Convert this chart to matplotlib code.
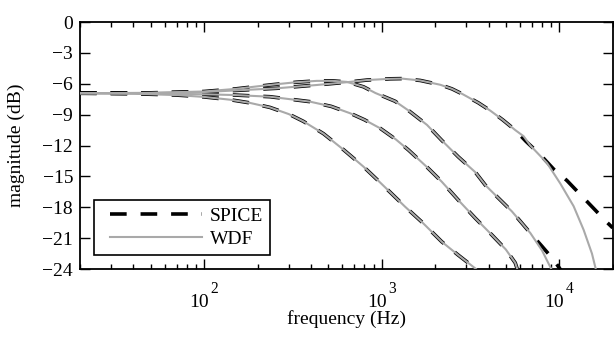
import numpy as np
import matplotlib
matplotlib.use('Agg')
import matplotlib.pyplot as plt
from matplotlib.ticker import LogLocator, FixedLocator, NullFormatter
from matplotlib.legend_handler import HandlerLine2D

plt.rcParams['font.family'] = ['Liberation Serif', 'DejaVu Serif']
plt.rcParams['lines.scale_dashes'] = False

#curve data: frequency (Hz) and magnitude (dB)
f1 = [20, 40, 70, 100, 140, 180, 235, 300, 362, 470, 609, 789, 981, 1355, 1700, 2180, 2700, 3370, 3600]
db1 = [-6.92, -6.97, -7.1, -7.28, -7.55, -7.85, -8.3, -8.95, -9.65, -10.85, -12.4, -14.05, -15.6, -17.95, -19.5, -21.35, -22.65, -23.95, -24.4]

f2 = [20, 50, 100, 150, 235, 395, 520, 665, 800, 981, 1200, 1416, 1800, 2180, 2700, 3370, 4180, 5000, 5650, 5800, 6100]
db2 = [-6.92, -6.95, -7.02, -7.1, -7.26, -7.74, -8.2, -8.87, -9.5, -10.33, -11.4, -12.44, -14.1, -15.52, -17.3, -19.07, -20.7, -22.1, -23.4, -24.0, -24.6]

f3 = [20, 50, 100, 150, 200, 251, 330, 431, 530, 637, 791, 922, 1190, 1416, 1800, 2180, 2700, 3370, 3830, 4600, 5410, 6870]
db3 = [-6.92, -6.88, -6.75, -6.5, -6.25, -6.06, -5.85, -5.72, -5.72, -5.82, -6.3, -6.9, -7.7, -8.6, -10.0, -11.5, -13.1, -14.6, -15.84, -17.2, -18.4, -20.5]
f3_spice_hi = [8000, 9290, 10200]
db3_spice_hi = [-21.8, -23.1, -24.1]
f3_wdf_hi = [8000, 8780, 9200]
db3_wdf_hi = [-22.2, -23.6, -24.3]

f4 = [20, 50, 100, 150, 257, 431, 637, 826, 1117, 1300, 1650, 2140, 2490, 2850, 3500, 4080, 4800, 5650]
db4 = [-6.92, -6.9, -6.8, -6.65, -6.44, -6.12, -5.85, -5.64, -5.52, -5.5, -5.68, -6.1, -6.5, -7.0, -7.85, -8.6, -9.5, -10.5]
f4_spice_hi = [6500, 7820, 9300, 11040, 13720, 16000, 18400, 20000]
db4_spice_hi = [-11.6, -12.9, -14.3, -15.4, -17.1, -18.3, -19.4, -20.0]
f4_wdf_hi = [6300, 6870, 8530, 10140, 12050, 13720, 15280, 15950, 16300]
db4_wdf_hi = [-11.1, -12.0, -13.7, -15.7, -17.9, -20.2, -22.5, -23.8, -24.5]

spice = [(f1, db1), (f2, db2), (f3 + f3_spice_hi, db3 + db3_spice_hi), (f4 + f4_spice_hi, db4 + db4_spice_hi)]
wdf = [(f1, db1), (f2, db2), (f3 + f3_wdf_hi, db3 + db3_wdf_hi), (f4 + f4_wdf_hi, db4 + db4_wdf_hi)]

x_exps = [2, 3, 4]

fs = 14

fig = plt.figure(figsize=(6.14, 3.38), dpi=100)
ax = fig.add_axes([0.1303, 0.2041, 0.8676, 0.7308])

for i, (f, d) in enumerate(spice):
    ax.plot(f, d, color='black', lw=2.6, dashes=[12, 10], label='SPICE' if i == 0 else None, zorder=2)
for i, (f, d) in enumerate(wdf):
    ax.plot(f, d, color='#a9a9a9', lw=1.5, label='WDF' if i == 0 else None, zorder=3)

ax.set_xscale('log')
ax.set_xlim(20, 20000)
ax.set_ylim(-24, 0)
ax.yaxis.set_major_locator(FixedLocator(np.arange(-24, 1, 3)))
ax.xaxis.set_major_locator(FixedLocator([10.0**e for e in x_exps]))
ax.xaxis.set_major_formatter(NullFormatter())
ax.xaxis.set_minor_locator(LogLocator(base=10, subs=np.arange(2, 10)))
ax.xaxis.set_minor_formatter(NullFormatter())

#decade labels drawn as "10" with a high raised exponent, like the original
for e in x_exps:
    ax.annotate('10', xy=(10.0**e, 0), xycoords=('data', 'axes fraction'),
                xytext=(-3.6, -27.4), textcoords='offset points',
                ha='center', va='baseline', fontsize=fs)
    ax.annotate(str(e), xy=(10.0**e, 0), xycoords=('data', 'axes fraction'),
                xytext=(7.2, -17.0), textcoords='offset points',
                ha='center', va='baseline', fontsize=fs * 0.8)

ax.tick_params(which='both', direction='in', top=True, right=True, labelsize=fs, width=1)
ax.tick_params(which='major', length=7)
ax.tick_params(which='minor', length=3.5)
ax.tick_params(axis='y', which='major', pad=5)
for s in ax.spines.values():
    s.set_linewidth(1.3)

ax.set_xlabel('frequency (Hz)', fontsize=fs)
ax.set_ylabel('magnitude (dB)', fontsize=fs)
ax.xaxis.set_label_coords(0.5, -0.168)
ax.yaxis.set_label_coords(-0.103, 0.5)

hmap = {l: HandlerLine2D(xpad=0.47) for l in ax.get_lines()[:1] + ax.get_lines()[4:5]}
leg = ax.legend(loc='lower left', bbox_to_anchor=(0.026, 0.057), borderaxespad=0,
                fontsize=fs, handlelength=5.2, handletextpad=0.41, fancybox=False,
                edgecolor='black', framealpha=1, borderpad=0.35, labelspacing=0.3,
                handler_map=hmap)
leg.get_frame().set_linewidth(1.2)

plt.savefig('out.png', dpi=100)
